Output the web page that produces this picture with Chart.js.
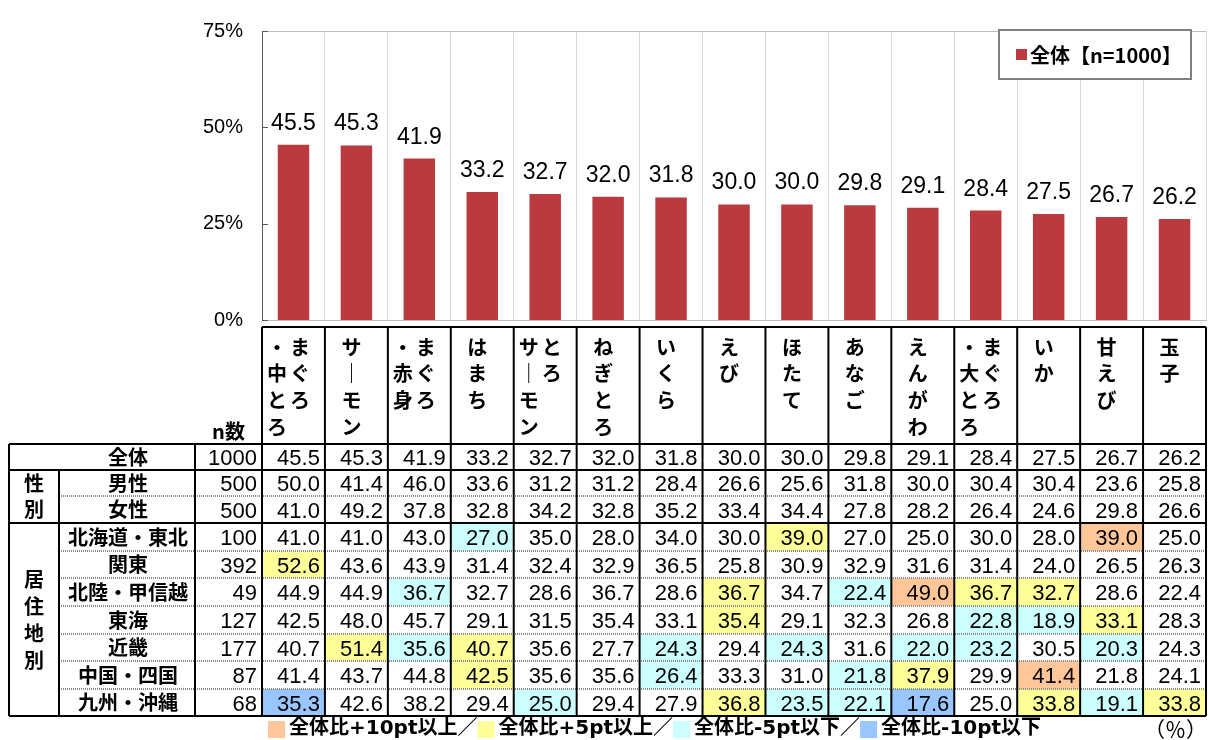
<!DOCTYPE html>
<html lang="ja">
<head>
<meta charset="utf-8">
<title>好きな寿司ネタ</title>
<script src="https://cdn.jsdelivr.net/npm/chart.js@4.4.1/dist/chart.umd.min.js"></script>
<style>
  body { margin: 0; background: #fff; }
  #wrap { width: 1209px; height: 740px; }
</style>
</head>
<body>
<div id="wrap"><canvas id="myChart"></canvas></div>
<script>
// "\n" marks a break between vertical columns (first part = rightmost column)
const categories = ['まぐろ\n・中とろ', 'サーモン', 'まぐろ\n・赤身', 'はまち', 'とろ\nサーモン', 'ねぎとろ', 'いくら', 'えび', 'ほたて', 'あなご', 'えんがわ', 'まぐろ\n・大とろ', 'いか', '甘えび', '玉子'];
const yTicks = [0, 25, 50, 75];
const seriesLabel = '全体【n=1000】';

const overall  = [45.5, 45.3, 41.9, 33.2, 32.7, 32.0, 31.8, 30.0, 30.0, 29.8, 29.1, 28.4, 27.5, 26.7, 26.2];
const male     = [50.0, 41.4, 46.0, 33.6, 31.2, 31.2, 28.4, 26.6, 25.6, 31.8, 30.0, 30.4, 30.4, 23.6, 25.8];
const female   = [41.0, 49.2, 37.8, 32.8, 34.2, 32.8, 35.2, 33.4, 34.4, 27.8, 28.2, 26.4, 24.6, 29.8, 26.6];
const hokkaidoTohoku = [41.0, 41.0, 43.0, 27.0, 35.0, 28.0, 34.0, 30.0, 39.0, 27.0, 25.0, 30.0, 28.0, 39.0, 25.0];
const kanto    = [52.6, 43.6, 43.9, 31.4, 32.4, 32.9, 36.5, 25.8, 30.9, 32.9, 31.6, 31.4, 24.0, 26.5, 26.3];
const hokuriku = [44.9, 44.9, 36.7, 32.7, 28.6, 36.7, 28.6, 36.7, 34.7, 22.4, 49.0, 36.7, 32.7, 28.6, 22.4];
const tokai    = [42.5, 48.0, 45.7, 29.1, 31.5, 35.4, 33.1, 35.4, 29.1, 32.3, 26.8, 22.8, 18.9, 33.1, 28.3];
const kinki    = [40.7, 51.4, 35.6, 40.7, 35.6, 27.7, 24.3, 29.4, 24.3, 31.6, 22.0, 23.2, 30.5, 20.3, 24.3];
const chugokuShikoku = [41.4, 43.7, 44.8, 42.5, 35.6, 35.6, 26.4, 33.3, 31.0, 21.8, 37.9, 29.9, 41.4, 21.8, 24.1];
const kyushuOkinawa  = [35.3, 42.6, 38.2, 29.4, 25.0, 29.4, 27.9, 36.8, 23.5, 22.1, 17.6, 25.0, 33.8, 19.1, 33.8];

const rowLabels = ['全体', '男性', '女性', '北海道・東北', '関東', '北陸・甲信越', '東海', '近畿', '中国・四国', '九州・沖縄'];
const rowN = [1000, 500, 500, 100, 392, 49, 127, 177, 87, 68];
const rowValues = [overall, male, female, hokkaidoTohoku, kanto, hokuriku, tokai, kinki, chugokuShikoku, kyushuOkinawa];
const noteLabels = ['全体比+10pt以上', '全体比+5pt以上', '全体比-5pt以下', '全体比-10pt以下'];

const BAR_COLOR = '#B93A3F';
const NOTE_COLORS = ['#FFC799', '#FFFF99', '#CCFFFF', '#99C6FF'];
const JP = '"Noto Sans CJK JP", sans-serif';
const NUM = '"Liberation Sans", Arial, sans-serif';

// which highlight colour a cell gets, compared to the overall row
const cellColor = (v, base) => {
    const d = Math.round((v - base) * 10) / 10;
    if (d >= 10) return NOTE_COLORS[0];
    if (d >= 5) return NOTE_COLORS[1];
    if (d <= -10) return NOTE_COLORS[3];
    if (d <= -5) return NOTE_COLORS[2];
    return null;
};

const sushiPlugin = {
    id: 'sushiTable',
    afterDatasetsDraw(chart) {
        const ctx = chart.ctx;
        const meta = chart.getDatasetMeta(0);
        ctx.save();
        ctx.font = '23px ' + NUM;
        ctx.fillStyle = '#000';
        ctx.textAlign = 'center';
        ctx.textBaseline = 'alphabetic';
        meta.data.forEach((bar, i) => ctx.fillText(overall[i].toFixed(1), bar.x, bar.y - 15));
        ctx.restore();
    },
    afterDraw(chart) {
        const ctx = chart.ctx;
        const area = chart.chartArea;
        const xs = chart.scales.x;
        const ys = chart.scales.y;
        const n = categories.length;
        const cw = xs.width / n;
        const colL = i => xs.getPixelForValue(i) - cw / 2;

        ctx.save();
        // top border of plot + inside ticks
        ctx.strokeStyle = '#BFBFBF';
        ctx.lineWidth = 1;
        ctx.beginPath();
        ctx.moveTo(area.left, area.top + 0.5);
        ctx.lineTo(area.right, area.top + 0.5);
        ctx.stroke();
        ctx.strokeStyle = '#595959';
        yTicks.forEach(t => {
            const y = Math.round(ys.getPixelForValue(t)) + 0.5;
            ctx.beginPath();
            ctx.moveTo(area.left, y);
            ctx.lineTo(area.left + 6, y);
            ctx.stroke();
        });

        // legend box
        ctx.strokeStyle = '#808080';
        ctx.lineWidth = 2;
        ctx.fillStyle = '#fff';
        ctx.fillRect(999, 30, 192, 49);
        ctx.strokeRect(999, 30, 192, 49);
        ctx.fillStyle = BAR_COLOR;
        ctx.fillRect(1016, 49, 11, 11);
        ctx.fillStyle = '#000';
        ctx.font = 'bold 20px ' + JP;
        ctx.textAlign = 'left';
        ctx.textBaseline = 'middle';
        ctx.fillText(seriesLabel, 1030, 55);

        // table geometry
        const left = 9, grpR = 59, lblR = 195, nR = colL(0), right = xs.right;
        const headTop = 327;
        const rowY = [444, 470, 496, 523, 551, 578, 606, 634, 661, 689, 716];

        // highlighted cells
        rowValues.forEach((vals, r) => {
            if (r === 0) return;
            vals.forEach((v, c) => {
                const col = cellColor(v, overall[c]);
                if (col) {
                    ctx.fillStyle = col;
                    ctx.fillRect(colL(c), rowY[r], cw, rowY[r + 1] - rowY[r]);
                }
            });
        });

        // header (vertical writing)
        ctx.fillStyle = '#000';
        ctx.font = 'bold 20px ' + JP;
        ctx.textAlign = 'center';
        ctx.textBaseline = 'middle';
        categories.forEach((label, i) => {
            const parts = label.split('\n');
            const cx = xs.getPixelForValue(i) - 5;
            parts.forEach((part, k) => {
                const px = parts.length === 1 ? cx : cx + 11.5 - k * 23;
                [...part].forEach((ch, j) => {
                    ctx.fillText(ch === 'ー' ? '｜' : ch, px, 347 + j * 26.7);
                });
            });
        });
        ctx.fillText('n数', (lblR + nR) / 2, 431);

        // row labels
        rowLabels.forEach((lab, r) => {
            const cy = (rowY[r] + rowY[r + 1]) / 2;
            ctx.fillText(lab, (grpR + lblR) / 2 + 1, cy);
        });
        ctx.fillText('性', (left + grpR) / 2, (rowY[1] + rowY[2]) / 2);
        ctx.fillText('別', (left + grpR) / 2, (rowY[2] + rowY[3]) / 2);
        const regionMid = (rowY[3] + rowY[10]) / 2;
        [...'居住地別'].forEach((ch, j) => ctx.fillText(ch, (left + grpR) / 2, regionMid + (j - 1.5) * 27));

        // numbers
        ctx.font = '22px ' + NUM;
        ctx.textAlign = 'right';
        ctx.textBaseline = 'alphabetic';
        rowValues.forEach((vals, r) => {
            const base = (rowY[r] + rowY[r + 1]) / 2 + 8;
            ctx.fillText(String(rowN[r]), nR - 5, base);
            vals.forEach((v, c) => ctx.fillText(v.toFixed(1), colL(c) + cw - 5, base));
        });

        // dotted row separators
        ctx.strokeStyle = '#8C8C8C';
        ctx.lineWidth = 2;
        ctx.setLineDash([1, 1]);
        [2, 4, 5, 6, 7, 8, 9].forEach(r => {
            ctx.beginPath();
            ctx.moveTo(grpR, rowY[r]);
            ctx.lineTo(right, rowY[r]);
            ctx.stroke();
        });
        ctx.setLineDash([]);

        // solid lines
        ctx.strokeStyle = '#000';
        ctx.lineWidth = 2;
        const line = (x1, y1, x2, y2) => {
            ctx.beginPath();
            ctx.moveTo(x1, y1);
            ctx.lineTo(x2, y2);
            ctx.stroke();
        };
        line(nR, headTop, right, headTop);
        [0, 1, 3, 10].forEach(r => line(left, rowY[r], right, rowY[r]));
        line(left, rowY[0], left, rowY[10]);
        line(grpR, rowY[1], grpR, rowY[10]);
        line(lblR, rowY[0], lblR, rowY[10]);
        for (let c = 0; c <= n; c++) {
            const x = c === n ? right : colL(c);
            line(x, headTop, x, rowY[10]);
        }

        // colour notes under table
        let x = 268;
        ctx.font = 'bold 20px "DejaVu Sans", ' + JP;
        ctx.textAlign = 'left';
        ctx.textBaseline = 'middle';
        noteLabels.forEach((txt, i) => {
            ctx.fillStyle = NOTE_COLORS[i];
            ctx.fillRect(x, 721, 17, 17);
            x += 21;
            ctx.fillStyle = '#000';
            const t = txt + (i < noteLabels.length - 1 ? '／' : '');
            ctx.fillText(t, x, 729);
            x += ctx.measureText(t).width;
        });
        ctx.font = '21px ' + JP;
        ctx.textAlign = 'right';
        ctx.fillText('（％）', 1207, 729);
        ctx.restore();
    }
};

const ctx = document.getElementById('myChart');
const myChart = new Chart(ctx, {
    type: 'bar',
    data: {
        labels: categories,
        datasets: [{
            label: seriesLabel,
            data: overall,
            backgroundColor: BAR_COLOR,
            barPercentage: 0.5,
            categoryPercentage: 1.0
        }]
    },
    options: {
        responsive: true,
        maintainAspectRatio: false,
        animation: false,
        layout: { padding: { top: 21, right: 3, bottom: 420, left: 0 } },
        plugins: {
            legend: { display: false },
            tooltip: { enabled: false }
        },
        scales: {
            x: {
                ticks: { display: false },
                grid: { offset: true, color: '#D9D9D9', drawTicks: false },
                border: { display: true, color: '#BFBFBF' },
                afterFit: s => { s.height = 0; }
            },
            y: {
                min: 0,
                max: 75,
                afterBuildTicks: s => { s.ticks = yTicks.map(v => ({ value: v })); },
                ticks: {
                    padding: 19,
                    color: '#000',
                    font: { family: NUM, size: 20 },
                    callback: v => v + '%'
                },
                grid: { display: false, drawTicks: false },
                border: { display: true, color: '#595959' },
                afterFit: s => { s.width = 262; }
            }
        }
    },
    plugins: [sushiPlugin]
});
</script>
</body>
</html>
